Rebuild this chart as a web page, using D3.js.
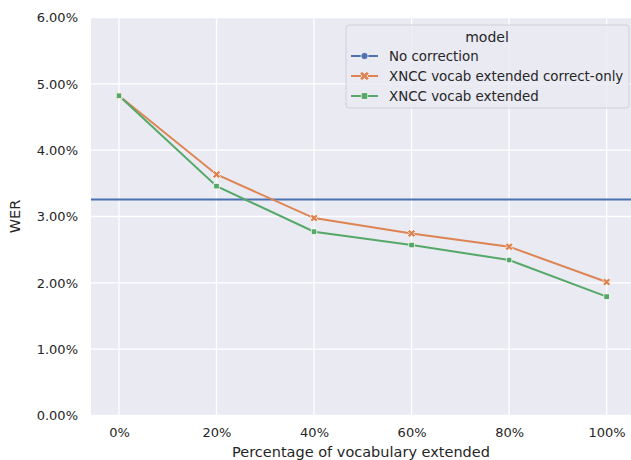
<!DOCTYPE html>
<html><head><meta charset="utf-8">
<script src="https://cdn.jsdelivr.net/npm/d3@7"></script>
<style>body{margin:0;background:#fff}svg text{font-family:"DejaVu Sans",sans-serif;fill:#262626}</style>
</head><body>
<script>
const xValues = [0, 20, 40, 60, 80, 100];
const noCorrection = 0.03257;
const correctOnly = [0.0482, 0.03634, 0.02976, 0.02745, 0.02545, 0.02012];
const extended = [0.0482, 0.03458, 0.02771, 0.0257, 0.02344, 0.01792];
const xTicks = [0, 20, 40, 60, 80, 100];
const yTicks = [0, 0.01, 0.02, 0.03, 0.04, 0.05, 0.06];
const seriesNames = ["No correction", "XNCC vocab extended correct-only", "XNCC vocab extended"];
const colors = ["#4c72b0", "#dd8452", "#55a868"];

const W = 631, H = 460;
const L = 91, R = 631, T = 17.5, B = 415.5;
const svg = d3.select("body").append("svg").attr("width", W).attr("height", H);
const x = d3.scaleLinear().domain([-5.74, 105]).range([L, R]);
const y = d3.scaleLinear().domain([0, 0.06]).range([B, T]);

svg.append("rect").attr("x", L).attr("y", T).attr("width", R - L).attr("height", B - T).attr("fill", "#eaeaf2");
const g = svg.append("g");
g.selectAll(".gx").data(xTicks).join("line").attr("x1", d => x(d)).attr("x2", d => x(d)).attr("y1", T).attr("y2", B).attr("stroke", "#fff").attr("stroke-width", 1.3);
g.selectAll(".gy").data(yTicks).join("line").attr("y1", d => y(d)).attr("y2", d => y(d)).attr("x1", L).attr("x2", R).attr("stroke", "#fff").attr("stroke-width", 1.3);

const xa = svg.append("g").attr("transform", `translate(0,${B})`).call(d3.axisBottom(x).tickValues(xTicks).tickFormat(d => d + "%").tickSize(0).tickPadding(12));
xa.select(".domain").remove();
xa.selectAll("text").attr("font-size", 13).attr("fill", "#262626");
const ya = svg.append("g").attr("transform", `translate(${L},0)`).call(d3.axisLeft(y).tickValues(yTicks).tickFormat(d3.format(".2%")).tickSize(0).tickPadding(13));
ya.select(".domain").remove();
ya.selectAll("text").attr("font-size", 13).attr("fill", "#262626");

svg.append("text").attr("x", (L + R) / 2).attr("y", 457).attr("text-anchor", "middle").attr("font-size", 14.5).text("Percentage of vocabulary extended");
svg.append("text").attr("transform", `translate(20,${(T + B) / 2}) rotate(-90)`).attr("text-anchor", "middle").attr("font-size", 14.5).text("WER");

// no correction line
svg.append("line").attr("x1", L).attr("x2", R).attr("y1", y(noCorrection)).attr("y2", y(noCorrection)).attr("stroke", colors[0]).attr("stroke-width", 2);

const line = d3.line().x(d => x(d[0])).y(d => y(d[1]));
const sets = [correctOnly, extended];
sets.forEach((vals, i) => {
  const pts = xValues.map((v, j) => [v, vals[j]]);
  svg.append("path").attr("d", line(pts)).attr("fill", "none").attr("stroke", colors[i + 1]).attr("stroke-width", 2);
});
function marker(sel, type, cx, cy, col, s) {
  if (type === 0) {
    sel.append("circle").attr("cx", cx).attr("cy", cy).attr("r", s * 0.55).attr("fill", col).attr("stroke", "#fff").attr("stroke-width", 0.7);
  } else if (type === 1) {
    sel.append("path").attr("d", d3.symbol().type(d3.symbolCross).size(s * s * 1.3)()).attr("transform", `translate(${cx},${cy}) rotate(45)`).attr("fill", col).attr("stroke", "#fff").attr("stroke-width", 0.7);
  } else {
    sel.append("rect").attr("x", cx - s / 2).attr("y", cy - s / 2).attr("width", s).attr("height", s).attr("fill", col).attr("stroke", "#fff").attr("stroke-width", 0.7);
  }
}
sets.forEach((vals, i) => {
  xValues.forEach((v, j) => marker(svg, i + 1, x(v), y(vals[j]), colors[i + 1], 5.5));
});

// legend
const lg = svg.append("g");
lg.append("rect").attr("x", 346).attr("y", 25).attr("width", 283).attr("height", 83).attr("rx", 3).attr("fill", "#eaeaf2").attr("fill-opacity", 0.8).attr("stroke", "#d0d0d8").attr("stroke-width", 1);
lg.append("text").attr("x", 487).attr("y", 42).attr("text-anchor", "middle").attr("font-size", 14).text("model");
seriesNames.forEach((n, i) => {
  const yy = 56 + i * 20;
  lg.append("line").attr("x1", 351).attr("x2", 378).attr("y1", yy).attr("y2", yy).attr("stroke", colors[i]).attr("stroke-width", 2);
  marker(lg, i, 364.5, yy, colors[i], 6.5);
  lg.append("text").attr("x", 389).attr("y", yy + 4.5).attr("font-size", 13.4).text(n);
});
</script>
</body></html>
